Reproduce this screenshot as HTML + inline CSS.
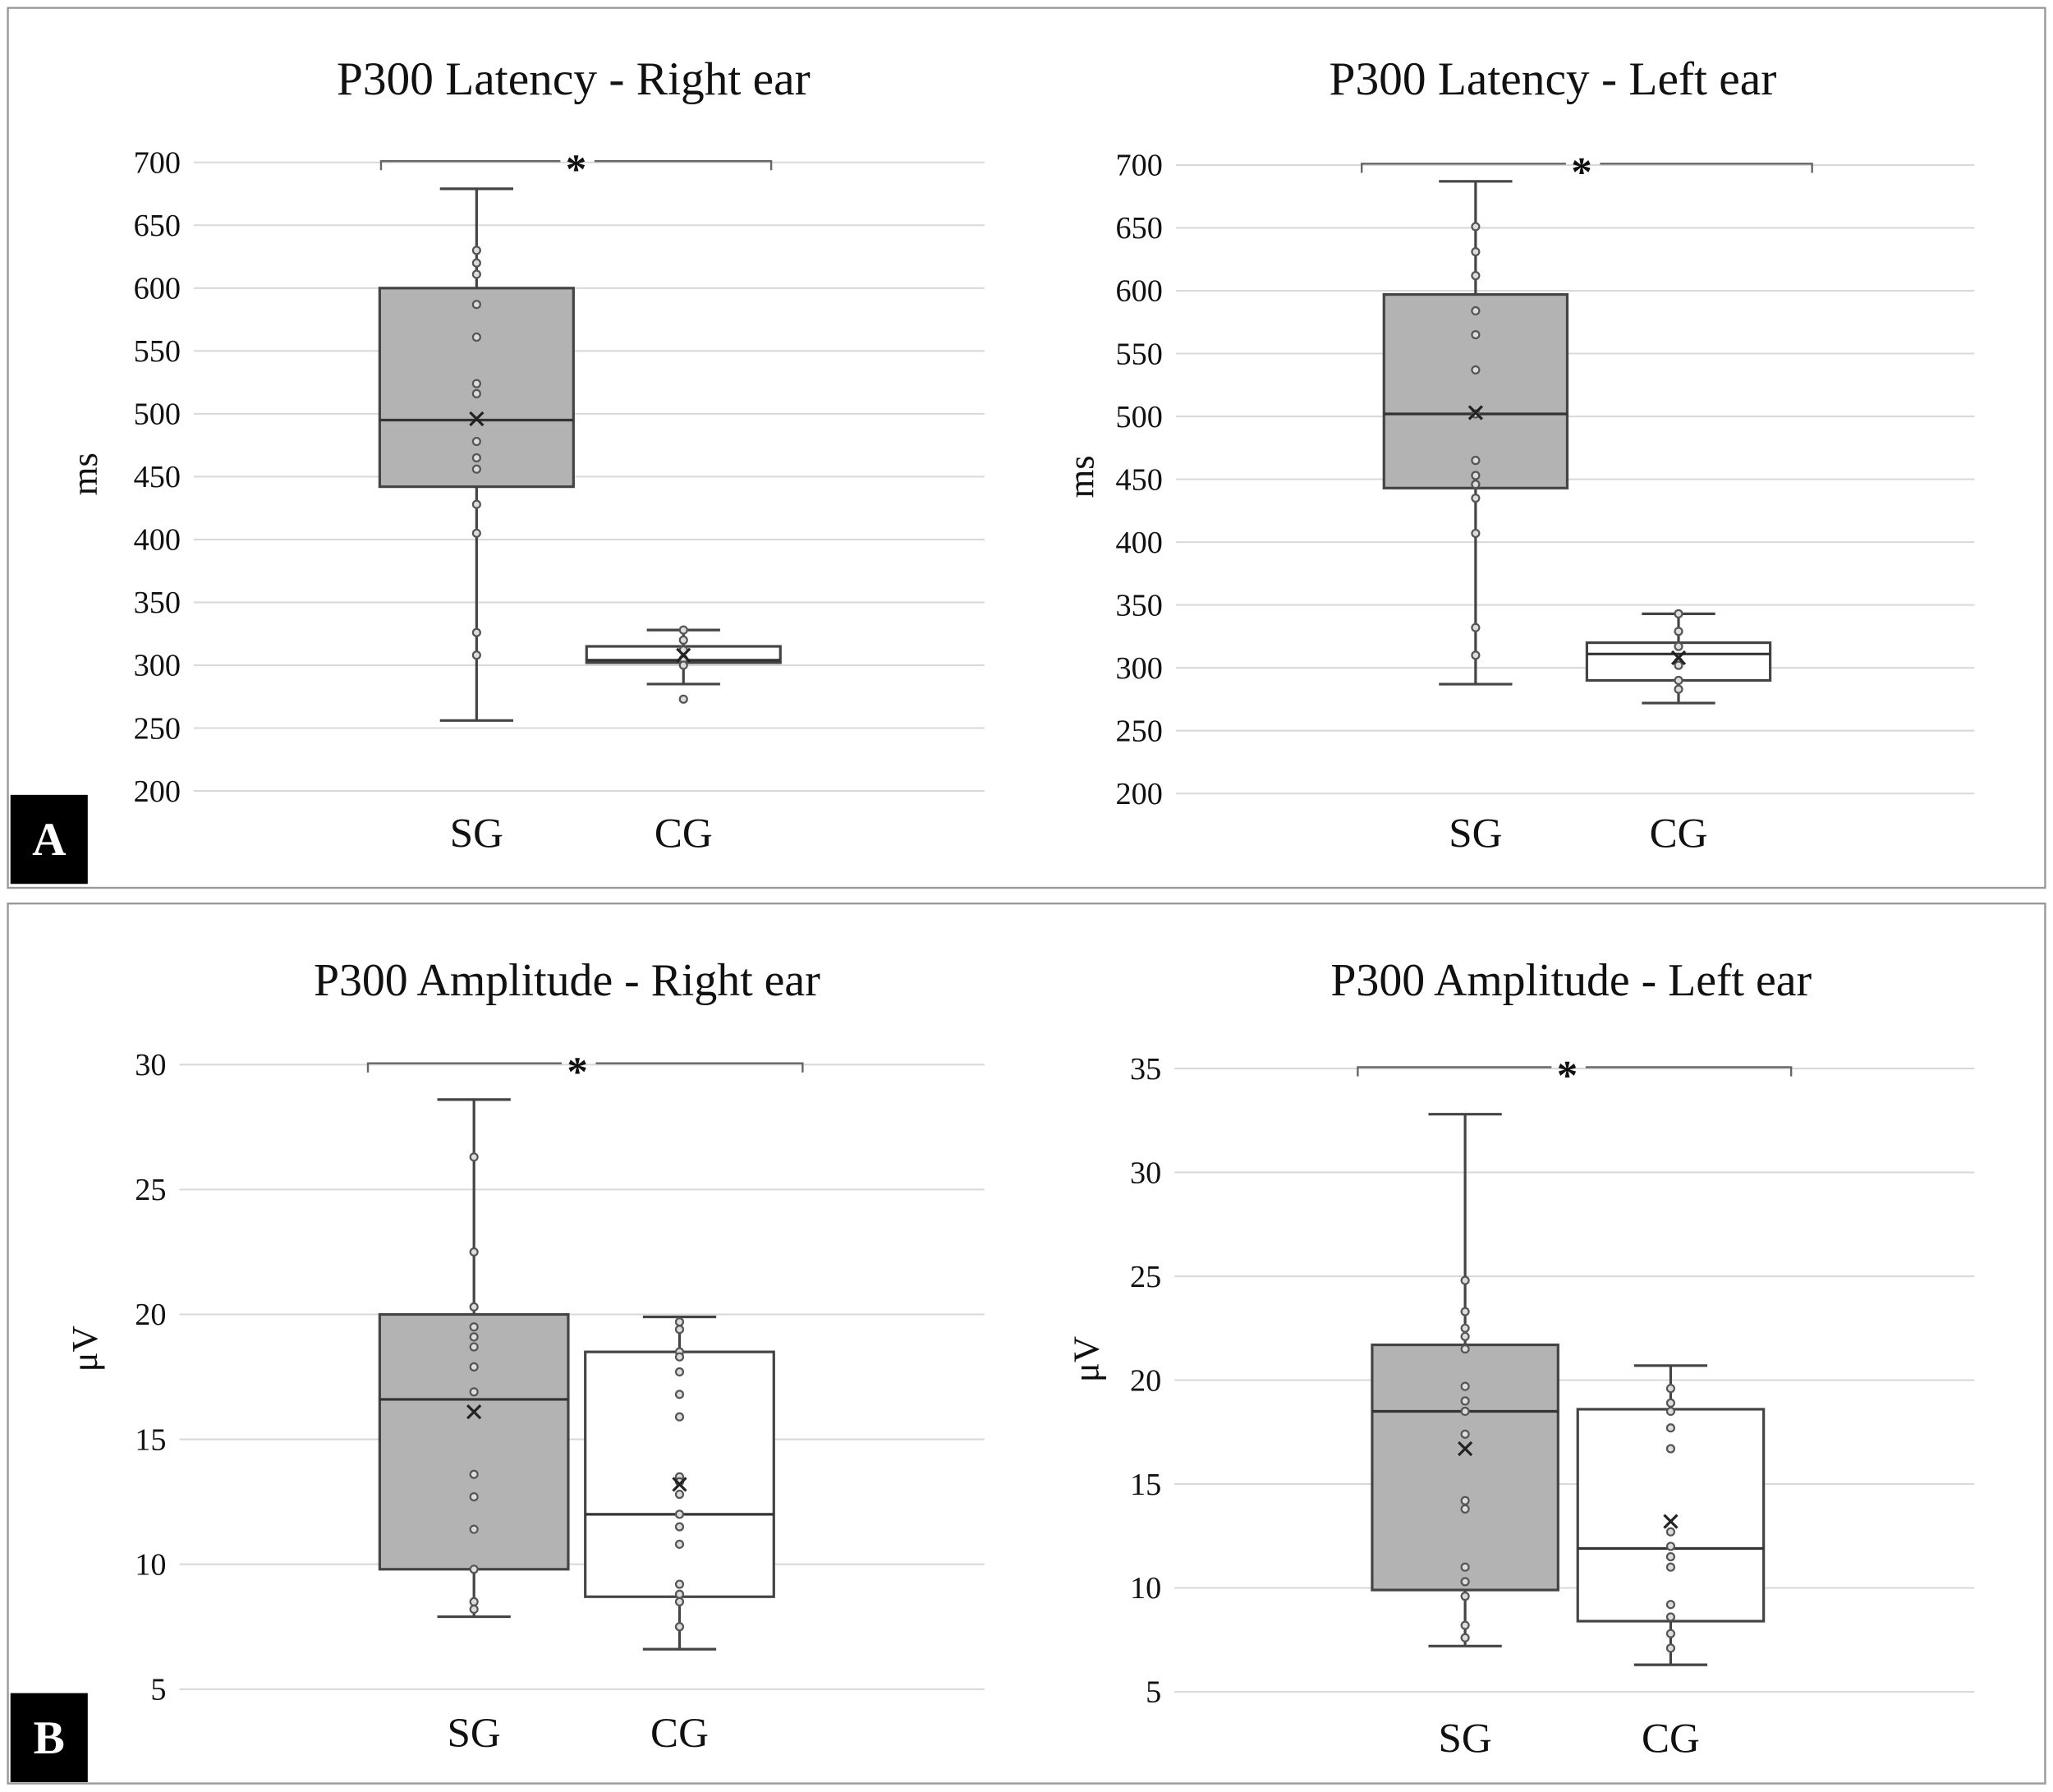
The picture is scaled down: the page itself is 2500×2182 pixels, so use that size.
<!DOCTYPE html>
<html><head><meta charset="utf-8"><style>
html,body{margin:0;padding:0;background:#fff}
svg{display:block}
text{font-family:"Liberation Serif",serif;fill:#111}
</style></head><body>
<svg id="fig" width="2500" height="2182" viewBox="0 0 1568 1368.5" xmlns="http://www.w3.org/2000/svg">
<rect x="0" y="0" width="1568" height="1368.5" fill="#fff"/>
<rect x="6" y="6" width="1556" height="672" fill="none" stroke="#999" stroke-width="1.5"/>
<rect x="6" y="690" width="1556" height="672" fill="none" stroke="#999" stroke-width="1.5"/>
<g id="charts"></g>
<g><rect x="8" y="607" width="59" height="68" fill="#000"/><text x="37.5" y="653" text-anchor="middle" font-size="36" font-weight="bold" style="fill:#fff">A</text></g>
<g><rect x="8" y="1293" width="59" height="68" fill="#000"/><text x="37.5" y="1339" text-anchor="middle" font-size="36" font-weight="bold" style="fill:#fff">B</text></g>
</svg>
<script>
const categories = ["SG","CG"];
// Chart 1: Latency right
const c1SG = {min:256,q1:442,med:495,q3:600,max:679,mean:496};
const c1CG = {min:285,q1:302,med:304,q3:315,max:328,mean:308};
const c1SGpts = [630,620,611,587,561,524,516,478,465,456,428,405,326,308];
const c1CGpts = [328,320,312,305,300,273];
const c1Ticks = [200,250,300,350,400,450,500,550,600,650,700];
// Chart 2: Latency left
const c2SG = {min:287,q1:443,med:502,q3:597,max:687,mean:503};
const c2CG = {min:272,q1:290,med:311,q3:320,max:343,mean:308};
const c2SGpts = [651,631,612,584,565,537,502,465,453,446,435,407,332,310];
const c2CGpts = [343,329,317,305,302,290,283];
const c2Ticks = [200,250,300,350,400,450,500,550,600,650,700];
// Chart 3: Amplitude right
const c3SG = {min:7.9,q1:9.8,med:16.6,q3:20,max:28.6,mean:16.1};
const c3CG = {min:6.6,q1:8.7,med:12.0,q3:18.5,max:19.9,mean:13.2};
const c3SGpts = [26.3,22.5,20.3,19.5,19.1,18.7,17.9,16.9,13.6,12.7,11.4,9.8,8.5,8.2];
const c3CGpts = [19.7,19.4,18.5,18.3,17.7,16.8,15.9,13.5,13.3,12.8,12.0,11.5,10.8,9.2,8.8,8.5,7.5];
const c3Ticks = [5,10,15,20,25,30];
// Chart 4: Amplitude left
const c4SG = {min:7.2,q1:9.9,med:18.5,q3:21.7,max:32.8,mean:16.7};
const c4CG = {min:6.3,q1:8.4,med:11.9,q3:18.6,max:20.7,mean:13.2};
const c4SGpts = [24.8,23.3,22.5,22.1,21.5,19.7,19.0,18.5,17.4,14.2,13.8,11.0,10.3,9.6,8.2,7.6];
const c4CGpts = [19.6,18.9,18.5,17.7,16.7,12.7,12.0,11.5,11.0,9.2,8.6,7.8,7.1];
const c4Ticks = [5,10,15,20,25,30,35];

const NS="http://www.w3.org/2000/svg";
const root=document.getElementById('charts');
function mk(tag,attrs,parent){const e=document.createElementNS(NS,tag);for(const k in attrs)e.setAttribute(k,attrs[k]);(parent||root).appendChild(e);return e;}

function chart(cfg){
  const g=mk('g',{});
  
  
  const t0=cfg.ticks[0], t1=cfg.ticks[cfg.ticks.length-1];
  const y=v=>cfg.yBot-(v-t0)/(t1-t0)*(cfg.yBot-cfg.yTop);
  const title=mk('text',{x:cfg.titleX,y:cfg.titleY,'text-anchor':'middle','font-size':cfg.titleSize},g);
  title.textContent=cfg.title;
  
  
  cfg.ticks.forEach(tv=>{
    const l=mk('line',{x1:cfg.x0,x2:cfg.x1,y1:y(tv),y2:y(tv),stroke:'#d9d9d9','stroke-width':1.3},g);
    
    
    const t=mk('text',{x:cfg.x0-10,y:y(tv)+8,'text-anchor':'end','font-size':24},g);
    t.textContent=tv;
    
    
  });
  const yt=mk('text',{x:0,y:0,'text-anchor':'middle','font-size':28,transform:`translate(${cfg.yTitleX},${cfg.yTitleY}) rotate(-90)`},g);
  yt.textContent=cfg.yTitle;
  
  
  const groups=[[cfg.sg,cfg.sgPts,'#b3b3b3'],[cfg.cg,cfg.cgPts,'#ffffff']];
  groups.forEach((gr,i)=>{
    const s=gr[0],cx=cfg.cx[i],hw=cfg.hw;
    const bg=mk('g',{},g);
    
    
    mk('line',{x1:cx,x2:cx,y1:y(s.max),y2:y(s.min),stroke:'#444','stroke-width':2},bg);
    mk('line',{x1:cx-28,x2:cx+28,y1:y(s.max),y2:y(s.max),stroke:'#444','stroke-width':2},bg);
    mk('line',{x1:cx-28,x2:cx+28,y1:y(s.min),y2:y(s.min),stroke:'#444','stroke-width':2},bg);
    mk('rect',{x:cx-hw,y:y(s.q3),width:2*hw,height:y(s.q1)-y(s.q3),fill:gr[2],stroke:'#444','stroke-width':2},bg);
    mk('line',{x1:cx-hw,x2:cx+hw,y1:y(s.med),y2:y(s.med),stroke:'#333','stroke-width':2},bg);
    gr[1].forEach(v=>{
      const c=mk('circle',{cx:cx,cy:y(v),r:2.8,fill:'#ddd',stroke:'#555','stroke-width':1.4},bg);
      
      
    });
    const my=y(s.mean);
    const m=mk('path',{d:`M${cx-5},${my-5}L${cx+5},${my+5}M${cx-5},${my+5}L${cx+5},${my-5}`,stroke:'#222','stroke-width':2},bg);
    
    
    const xl=mk('text',{x:cx,y:cfg.xLabY,'text-anchor':'middle','font-size':32},g);
    xl.textContent=categories[i];
    
    
  });
  const b=cfg.br;
  const br=mk('path',{d:`M${b[0]},${b[2]+7}V${b[2]}H${b[3]-12}M${b[3]+14},${b[2]}H${b[1]}V${b[2]+7}`,fill:'none',stroke:'#666','stroke-width':1.5},g);
  
  
  const st=mk('text',{x:b[3],y:b[2]+17,'text-anchor':'middle','font-size':32,'font-weight':'bold'},g);
  st.textContent='*';
  
  
}
chart({name:'latency-right-chart',title:'P300 Latency - Right ear',titleSize:36,titleX:438,titleY:72,x0:148,x1:752,yTop:124,yBot:604,ticks:c1Ticks,yTitle:'ms',yTitleX:74,yTitleY:362,cx:[364,522],hw:74,sg:c1SG,cg:c1CG,sgPts:c1SGpts,cgPts:c1CGpts,xLabY:647,br:[291,589,123,440]});
chart({name:'latency-left-chart',title:'P300 Latency - Left ear',titleSize:36,titleX:1186,titleY:72,x0:898,x1:1508,yTop:126,yBot:606,ticks:c2Ticks,yTitle:'ms',yTitleX:835,yTitleY:364,cx:[1127,1282],hw:70,sg:c2SG,cg:c2CG,sgPts:c2SGpts,cgPts:c2CGpts,xLabY:647,br:[1040,1384,125,1208]});
chart({name:'amplitude-right-chart',title:'P300 Amplitude - Right ear',titleSize:35,titleX:433,titleY:760,x0:137,x1:752,yTop:813,yBot:1290,ticks:c3Ticks,yTitle:'μV',yTitleX:74,yTitleY:1030,cx:[362,519],hw:72,sg:c3SG,cg:c3CG,sgPts:c3SGpts,cgPts:c3CGpts,xLabY:1334,br:[281,613,812,441]});
chart({name:'amplitude-left-chart',title:'P300 Amplitude - Left ear',titleSize:35,titleX:1200,titleY:760,x0:897,x1:1508,yTop:816,yBot:1292,ticks:c4Ticks,yTitle:'μV',yTitleX:839,yTitleY:1038,cx:[1119,1276],hw:71,sg:c4SG,cg:c4CG,sgPts:c4SGpts,cgPts:c4CGpts,xLabY:1338,br:[1037,1368,815,1197]});
</script>
</body></html>
